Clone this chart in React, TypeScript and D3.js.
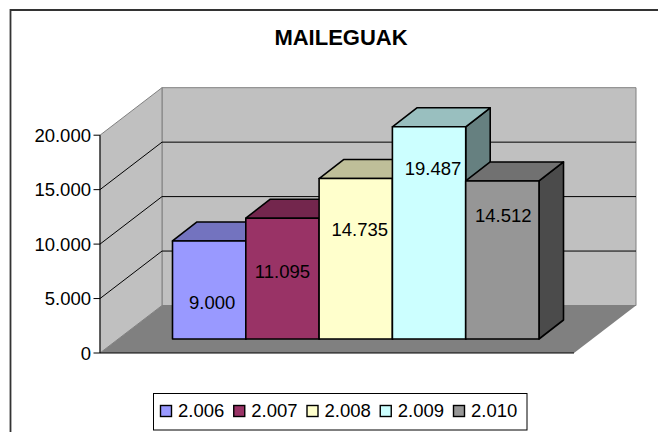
import React from "react";
import * as d3 from "d3";

const years = ["2.006", "2.007", "2.008", "2.009", "2.010"];
const values = [9000, 11095, 14735, 19487, 14512];
const valueLabels = ["9.000", "11.095", "14.735", "19.487", "14.512"];
const colors = ["#9999ff", "#993366", "#ffffcc", "#ccffff", "#969696"];
const ticks = [0, 5000, 10000, 15000, 20000];
const tickLabels = ["0", "5.000", "10.000", "15.000", "20.000"];

const FONT = "'Liberation Sans', Arial, sans-serif";
const DX = 24.5;
const DY = -19;
const WX = 62;
const WY = -47.5;

const xBand = d3.scaleBand<number>().domain(d3.range(5)).range([172.5, 539]);
const height = d3.scaleLinear().domain([0, 20000]).range([0, 217.8]);
const axisY = d3.scaleLinear().domain([0, 20000]).range([353, 135.2]);
const baseY = 339;
const legendX = d3.scaleLinear().domain([0, 4]).range([160.5, 453.5]);

function shade(c: string, k: number) {
  const r = d3.rgb(c);
  return d3.rgb(r.r * k, r.g * k, r.b * k).formatHex();
}
const pts = (a: number[][]) => a.map((p) => p.join(",")).join(" ");

export default function App() {
  const L = 100, R = 574, F = 353;
  const labelShift = [3, 0, 4, 4, 1];
  const labelDrop = [68, 60, 57, 48, 41];
  return (
    <svg width={658} height={432} style={{ position: "absolute", left: 0, top: 0, background: "#fff" }}>
      <path d="M10.5,432V10H658" fill="none" stroke="#333" strokeWidth={1.8} />
      <text x={341} y={44.5} textAnchor="middle" fontFamily={FONT} fontWeight="bold" fontSize={22}>MAILEGUAK</text>

      <polygon points={pts([[L + WX, axisY(20000) + WY], [R + WX, axisY(20000) + WY], [R + WX, F + WY], [L + WX, F + WY]])} fill="#c0c0c0" stroke="#808080" strokeWidth={1} />
      <polygon points={pts([[L, axisY(20000)], [L + WX, axisY(20000) + WY], [L + WX, F + WY], [L, F]])} fill="#c0c0c0" stroke="#808080" strokeWidth={1} />
      <polygon points={pts([[L, F], [L + WX, F + WY], [R + WX, F + WY], [R, F]])} fill="#808080" />
      {ticks.slice(1, 4).reverse().map((t) => (
        <path key={t} d={`M${L},${axisY(t)}L${L + WX},${axisY(t) + WY}H${R + WX}`} fill="none" stroke="#000" strokeWidth={1} />
      ))}
      <path d={`M${L},${axisY(20000)}V${F}H${R}`} fill="none" stroke="#000" strokeWidth={1} />

      {ticks.map((t, i) => (
        <g key={t}>
          <line x1={L - 6.5} x2={L} y1={axisY(t)} y2={axisY(t)} stroke="#000" />
          <text x={L - 9} y={axisY(t) + 6.5} textAnchor="end" fontFamily={FONT} fontSize={18.5}>{tickLabels[i]}</text>
        </g>
      ))}

      {values.map((v, i) => {
        const x0 = xBand(i)!, w = xBand.bandwidth(), top = baseY - height(v);
        const c = colors[i];
        return (
          <g key={i} stroke="#000" strokeWidth={1.6} strokeLinejoin="round">
            <polygon points={pts([[x0 + w, top], [x0 + w + DX, top + DY], [x0 + w + DX, baseY + DY], [x0 + w, baseY]])} fill={shade(c, 0.5)} />
            <polygon points={pts([[x0, top], [x0 + DX, top + DY], [x0 + w + DX, top + DY], [x0 + w, top]])} fill={shade(c, 0.75)} />
            <rect x={x0} y={top} width={w} height={height(v)} fill={c} />
          </g>
        );
      })}
      {values.map((v, i) => (
        <text key={i} x={xBand(i)! + xBand.bandwidth() / 2 + labelShift[i]} y={baseY - height(v) + labelDrop[i]} textAnchor="middle" fontFamily={FONT} fontSize={18.5} fill="#000">{valueLabels[i]}</text>
      ))}

      <rect x={153.5} y={393.5} width={373.5} height={36.5} fill="#fff" stroke="#000" strokeWidth={1} />
      {years.map((y, i) => {
        const lx = legendX(i);
        return (
          <g key={y}>
            <rect x={lx} y={405.5} width={11} height={11} fill={colors[i]} stroke="#000" strokeWidth={1.4} />
            <text x={lx + 17.5} y={416.5} fontFamily={FONT} fontSize={18.5}>{y}</text>
          </g>
        );
      })}
    </svg>
  );
}
